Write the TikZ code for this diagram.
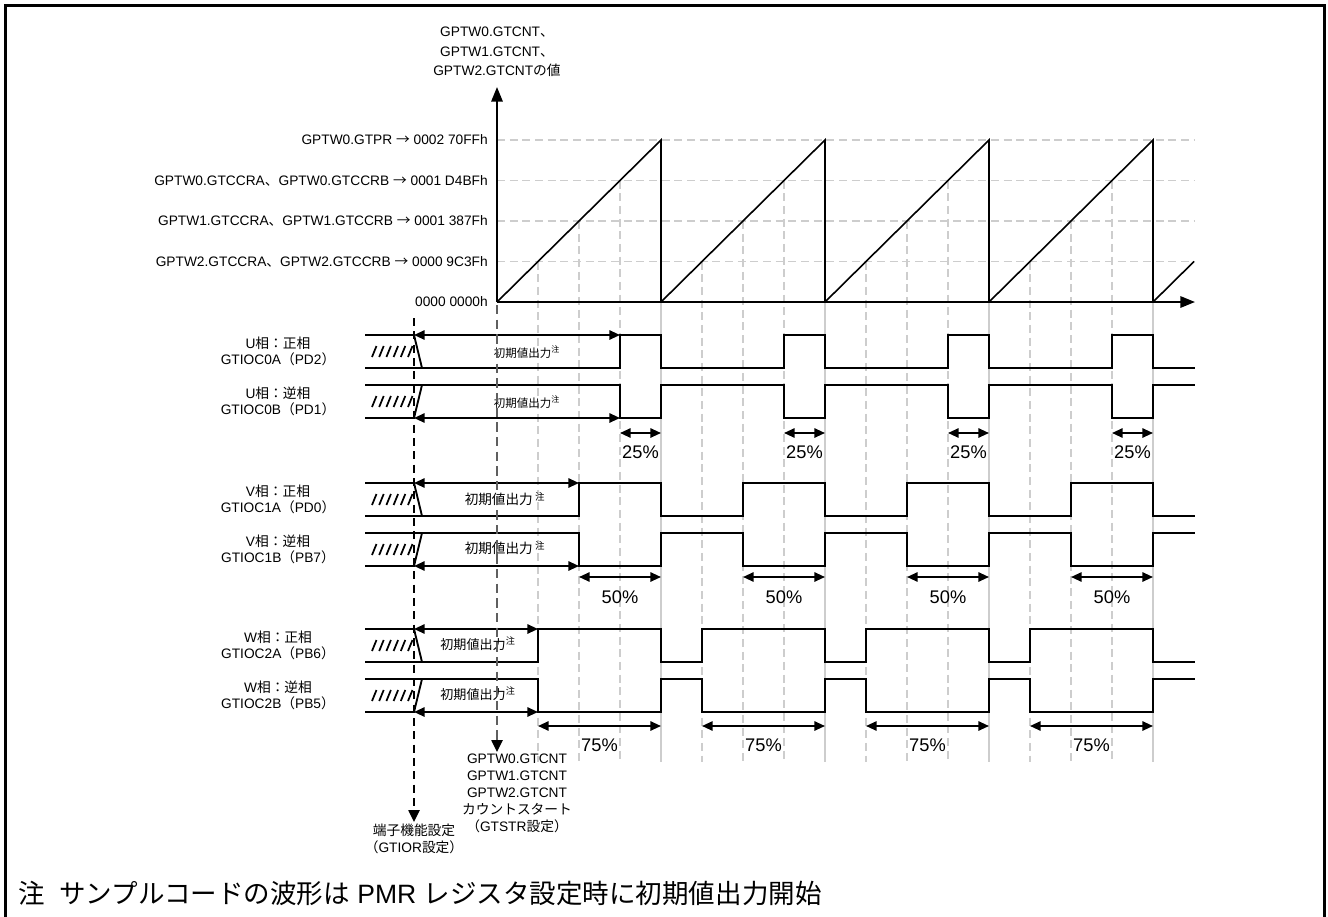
\documentclass[tikz,border=0pt]{standalone}
\usepackage{fontspec}
\setmainfont{Liberation Sans}
\newfontfamily\jp{Noto Sans CJK JP}
\usetikzlibrary{arrows.meta,positioning}

\definecolor{ink}{RGB}{0,0,0}
\definecolor{gridgray}{RGB}{205,205,205}
\definecolor{startgray}{RGB}{95,95,95}

\newcommand{\toarrow}{{\jp →}}

\tikzset{
    frame/.style={draw=ink, line width=2.3pt},
    axis/.style={
        draw=ink,
        line width=1.6pt,
        -{Triangle[length=11pt,width=8.5pt]}
    },
    ramp/.style={draw=ink, line width=1.2pt},
    wave/.style={draw=ink, line width=1.4pt},
    hatch/.style={draw=ink, line width=1.3pt},
    dim/.style={
        draw=ink,
        line width=1.4pt,
        {Triangle[length=8pt,width=7pt]}-{Triangle[length=8pt,width=7pt]}
    },
    gridline/.style={draw=gridgray, line width=1pt, dash pattern=on 6pt off 3.5pt},
    gridsolid/.style={draw=gridgray, line width=1pt},
    pinline/.style={
        draw=ink,
        line width=1.1pt,
        dash pattern=on 6pt off 4pt,
        -{Triangle[length=9pt,width=8.5pt,color=ink]}
    },
    startline/.style={pinline, draw=startgray, dash pattern=on 7pt off 4pt},
    lbl/.style={
        font=\fontsize{10.3}{14.5}\selectfont,
        inner sep=0pt,
        align=center
    },
    lvl/.style={lbl, anchor=east},
    rowlbl/.style={lbl, font=\fontsize{10.3}{12}\selectfont},
    evlbl/.style={lbl, font=\fontsize{10.3}{12.9}\selectfont},
    pct/.style={font=\fontsize{13.7}{16}\selectfont, inner sep=0pt},
    initlbl/.style={font=\fontsize{10.2}{12}\selectfont, inner sep=0pt},
    note/.style={font=\fontsize{19.9}{24}\selectfont, inner sep=0pt, anchor=west}
}

\begin{document}
\begin{tikzpicture}[x=0.75pt, y=-0.75pt]
\useasboundingbox (0,0) rectangle (1328,917);

% Frame
\draw[frame] (5.5,917) -- (5.5,5.5) -- (1324.5,5.5) -- (1324.5,917);

% Grid: compare levels and crossing points
\foreach \yy in {140,180.5,221,261.5}
    \draw[gridline] (497,\yy) -- (1195,\yy);
\foreach \k in {0,...,3}{
    \foreach \f in {1,2,3}
        \draw[gridline] ({497+164*\k+41*\f},{302-40.5*\f}) -- ({497+164*\k+41*\f},762);
    \draw[gridsolid] ({661+164*\k},140) -- ({661+164*\k},762);
}

% Counter (saw tooth)
\coordinate (origin) at (497,302);
\coordinate (ytip) at (497,87);
\coordinate (xtip) at (1195,302);
\foreach \k in {0,...,3}
    \draw[ramp] ({497+164*\k},302) -- ({661+164*\k},140) -- ({661+164*\k},302);
\draw[ramp] (1153,302) -- (1194,261.5);
\draw[axis] (origin) -- (ytip);
\draw[axis] (origin) -- (xtip);

\node[lbl] (ylbl) at (497,52) {GPTW0.GTCNT{\jp 、}\\GPTW1.GTCNT{\jp 、}\\GPTW2.GTCNT{\jp の値}};

% Levels
\node[lvl] (lvpr) at (488,140) {GPTW0.GTPR \toarrow{} 0002 70FFh};
\node[lvl] (lv0) at (488,180.5) {GPTW0.GTCCRA{\jp 、}GPTW0.GTCCRB \toarrow{} 0001 D4BFh};
\node[lvl] (lv1) at (488,221) {GPTW1.GTCCRA{\jp 、}GPTW1.GTCCRB \toarrow{} 0001 387Fh};
\node[lvl] (lv2) at (488,261.5) {GPTW2.GTCCRA{\jp 、}GPTW2.GTCCRB \toarrow{} 0000 9C3Fh};
\node[lvl] (lvzero) at (488,302) {0000 0000h};

% Positive phases (high from compare match to period end)
\foreach \yh/\yl/\cmp in {335/368/123, 483/516/82, 629/662/41}{
    \draw[wave] (365,\yl)
        foreach \k in {0,...,3}{ -- ({497+164*\k+\cmp},\yl) -- ({497+164*\k+\cmp},\yh)
            -- ({661+164*\k},\yh) -- ({661+164*\k},\yl) }
        -- (1195,\yl);
    \draw[wave] (365,\yh) -- (414,\yh) -- (422,\yl);
    \foreach \i in {0,...,5}
        \draw[hatch] ({372+7.2*\i},{(\yh+\yl)/2+5.5}) -- ++(4.5,-11);
    \coordinate (init-s) at (414,\yh);
    \coordinate (init-e) at ({497+\cmp},\yh);
    \draw[dim] (init-s) -- (init-e);
}

% Negative phases
\foreach \yh/\yl/\cmp in {385/418/123, 533/566/82, 679/712/41}{
    \draw[wave] (365,\yh)
        foreach \k in {0,...,3}{ -- ({497+164*\k+\cmp},\yh) -- ({497+164*\k+\cmp},\yl)
            -- ({661+164*\k},\yl) -- ({661+164*\k},\yh) }
        -- (1195,\yh);
    \draw[wave] (365,\yl) -- (414,\yl) -- (422,\yh);
    \foreach \i in {0,...,5}
        \draw[hatch] ({372+7.2*\i},{(\yh+\yl)/2+5.5}) -- ++(4.5,-11);
    \coordinate (init-s) at (414,\yl);
    \coordinate (init-e) at ({497+\cmp},\yl);
    \draw[dim] (init-s) -- (init-e);
}

% Pin names
\node[rowlbl] (uP) at (278,351.5) {U{\jp 相：正相}\\GTIOC0A{\jp （}PD2{\jp ）}};
\node[rowlbl] (uN) at (278,401.5) {U{\jp 相：逆相}\\GTIOC0B{\jp （}PD1{\jp ）}};
\node[rowlbl] (vP) at (278,499.5) {V{\jp 相：正相}\\GTIOC1A{\jp （}PD0{\jp ）}};
\node[rowlbl] (vN) at (278,549) {V{\jp 相：逆相}\\GTIOC1B{\jp （}PB7{\jp ）}};
\node[rowlbl] (wP) at (278,645.5) {W{\jp 相：正相}\\GTIOC2A{\jp （}PB6{\jp ）}};
\node[rowlbl] (wN) at (278,695.5) {W{\jp 相：逆相}\\GTIOC2B{\jp （}PB5{\jp ）}};

% Initial output
\node[initlbl, font=\fontsize{8.6}{10}\selectfont] (uPi) at (527,352) {{\jp 初期値出力}\textsuperscript{\jp 注}};
\node[initlbl, font=\fontsize{8.6}{10}\selectfont] (uNi) at (527,402) {{\jp 初期値出力}\textsuperscript{\jp 注}};
\node[initlbl] (vPi) at (505,499) {{\jp 初期値出力}\,\textsuperscript{\jp 注}};
\node[initlbl] (vNi) at (505,548) {{\jp 初期値出力}\,\textsuperscript{\jp 注}};
\node[initlbl, font=\fontsize{9.8}{12}\selectfont] (wPi) at (478,644) {{\jp 初期値出力}\textsuperscript{\jp 注}};
\node[initlbl, font=\fontsize{9.8}{12}\selectfont] (wNi) at (478,694) {{\jp 初期値出力}\textsuperscript{\jp 注}};

% Duty
\foreach \cmp/\ya/\yt/\duty in {123/433/452/25, 82/577/597/50, 41/726/745/75}{
    \foreach \k in {0,...,3}{
        \coordinate (pa) at ({497+164*\k+\cmp},\ya);
        \coordinate (pb) at ({661+164*\k},\ya);
        \draw[dim] (pa) -- (pb);
        \node[pct] at ({(497+164*\k+\cmp+661+164*\k)/2},\yt) {\duty\%};
    }
}

% Events
\coordinate (pinset-a) at (414,318);
\coordinate (pinset) at (414,822);
\draw[pinline] (pinset-a) -- (pinset);
\node[evlbl, below=1pt of pinset] (pinlbl) {{\jp 端子機能設定}\\{\jp （}GTIOR{\jp 設定）}};

\coordinate (cnt-a) at (497,305);
\coordinate (cnt) at (497,752);
\draw[startline] (cnt-a) -- (cnt);
\node[evlbl, below=1pt of cnt, xshift=15pt] (cntlbl) {GPTW0.GTCNT\\GPTW1.GTCNT\\GPTW2.GTCNT\\{\jp カウントスタート}\\{\jp （}GTSTR{\jp 設定）}};

% Note
\node[note] (fn) at (18,893) {{\jp 注\hspace{0.55em}サンプルコードの波形は} PMR {\jp レジスタ設定時に初期値出力開始}};
\end{tikzpicture}
\end{document}
